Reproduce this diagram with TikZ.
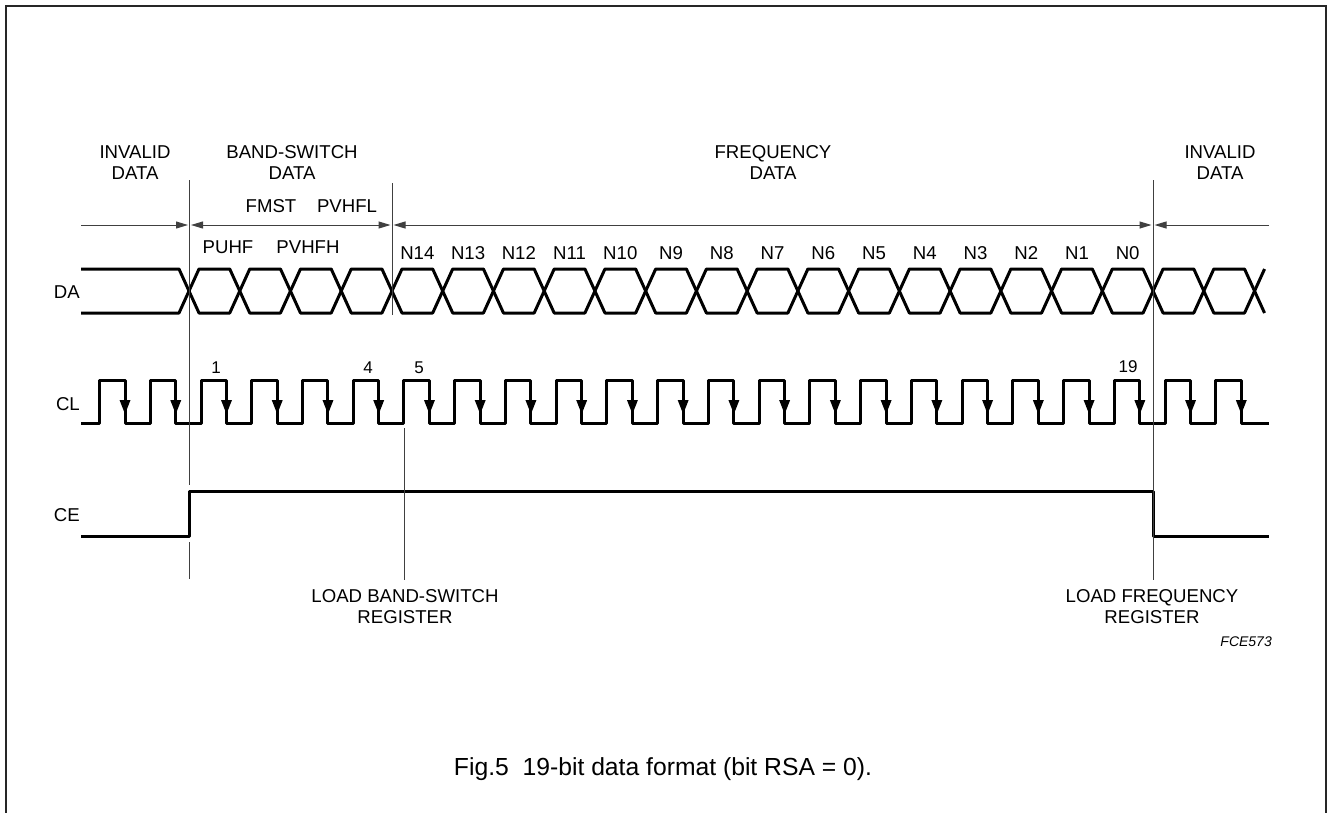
\documentclass[tikz,border=0pt]{standalone}
\usepackage{fontspec}
\setmainfont{Liberation Sans}
\usetikzlibrary{arrows.meta}

\tikzset{
  sig/.style={line width=3pt, line join=round},
  guide/.style={line width=1pt, black!75},
  tip/.style={guide, -{Triangle[length=12pt,width=7pt]}},
  spanarrow/.style={guide, {Triangle[length=12pt,width=7pt]}-{Triangle[length=12pt,width=7pt]}},
  lbl/.style={font=\fontsize{18.6}{21}\selectfont, align=center, inner sep=0pt},
  num/.style={font=\fontsize{17}{20}\selectfont, inner sep=0pt}
}

\begin{document}
\begin{tikzpicture}[x=1pt, y=-1pt]
        \pgfmathsetmacro{\per}{50.74}
        \useasboundingbox (0,0) rectangle (1327,812);

        % Frame
        \draw[line width=2pt, black!85] (6,815) -- (6,6) -- (1325.5,6) -- (1325.5,815);

        % Section headers
        \node[lbl] (invl) at (135,162.5) {INVALID\\DATA};
        \node[lbl] (bsw) at (292,162.5) {BAND-SWITCH\\DATA};
        \node[lbl] (freq) at (773,162.5) {FREQUENCY\\DATA};
        \node[lbl] (invr) at (1220,162.5) {INVALID\\DATA};

        % Header arrows
        \draw[tip] (81,225) -- (188,225);
        \draw[spanarrow] (191,225) -- (390.5,225);
        \draw[spanarrow] (393.5,225) -- (1151.5,225);
        \draw[tip] (1269,225) -- (1154.5,225);

        % Band-switch bits
        \node[lbl] (fmst) at (271,206) {FMST};
        \node[lbl] (pvhfl) at (347,206) {PVHFL};
        \node[lbl] (puhf) at (228,247) {PUHF};
        \node[lbl] (pvhfh) at (308,247) {PVHFH};

        % Frequency bits
        \foreach \n [count=\i from 4] in {14,13,...,0}
          \node[lbl] (n\n) at ({189+(\i+0.5)*\per},253) {N\n};

        % Signal names
        \node[lbl, anchor=east] (da) at (80,292) {DA};
        \node[lbl, anchor=east] (cl) at (80,404) {CL};
        \node[lbl, anchor=east] (ce) at (80,515) {CE};

        % DA
        \draw[sig] (81,269) -- (179,269) -- (189,291) -- (179,313) -- (81,313);
        \foreach \k in {0,...,20} {
          \pgfmathsetmacro{\xa}{189+\k*\per}
          \pgfmathsetmacro{\xb}{\xa+\per}
          \draw[sig] (\xa,291) -- (\xa+10,269) -- (\xb-10,269) -- (\xb,291)
            -- (\xb-10,313) -- (\xa+10,313) -- cycle;
        }
        \draw[sig] ({189+21*\per+10},269) -- ({189+21*\per},291) -- ({189+21*\per+10},313);

        % CL
        \draw[sig] (81,423) \foreach \j in {-2,...,20} {
            -- ({201+\j*\per},423) -- ({201+\j*\per},380)
            -- ({226.5+\j*\per},380) -- ({226.5+\j*\per},423) } -- (1269,423);
        \foreach \j in {-2,...,20}
          \fill ({226.5+\j*\per-5.5},400) -- ({226.5+\j*\per+5.5},400)
            -- ({226.5+\j*\per},414) -- cycle;

        % Clock numbers
        \node[num] (c1) at (216,368) {1};
        \node[num] (c4) at (368,368) {4};
        \node[num] (c5) at (419,368) {5};
        \node[num] (c19) at (1128,367) {19};

        % CE
        \draw[sig] (81,536) -- (189.5,536) -- (189.5,491) -- (1153,491) -- (1153,536) -- (1269,536);

        % Load labels
        \node[lbl] (ldbs) at (405,606.5) {LOAD BAND-SWITCH\\REGISTER};
        \node[lbl] (ldfr) at (1152,606.5) {LOAD FREQUENCY\\REGISTER};

        % Guide lines
        \draw[guide] (189.5,180) -- (189.5,485);
        \draw[guide] (189.5,542) -- (189.5,579);
        \draw[guide] (392,183) -- (392,315);
        \draw[guide] (404,428) -- ([yshift=9pt]ldbs.north -| 404,0);
        \draw[guide] (1153,180) -- ([yshift=9pt]ldfr.north -| 1153,0);

        % Figure code and caption
        \node[font=\fontsize{14}{16}\selectfont\itshape, inner sep=0pt, anchor=east] (fce) at (1272,642) {FCE573};
        \node[font=\fontsize{24.7}{28}\selectfont, inner sep=0pt] (cap) at (663,769.5) {Fig.5\ \ 19-bit data format (bit RSA = 0).};
\end{tikzpicture}
\end{document}
